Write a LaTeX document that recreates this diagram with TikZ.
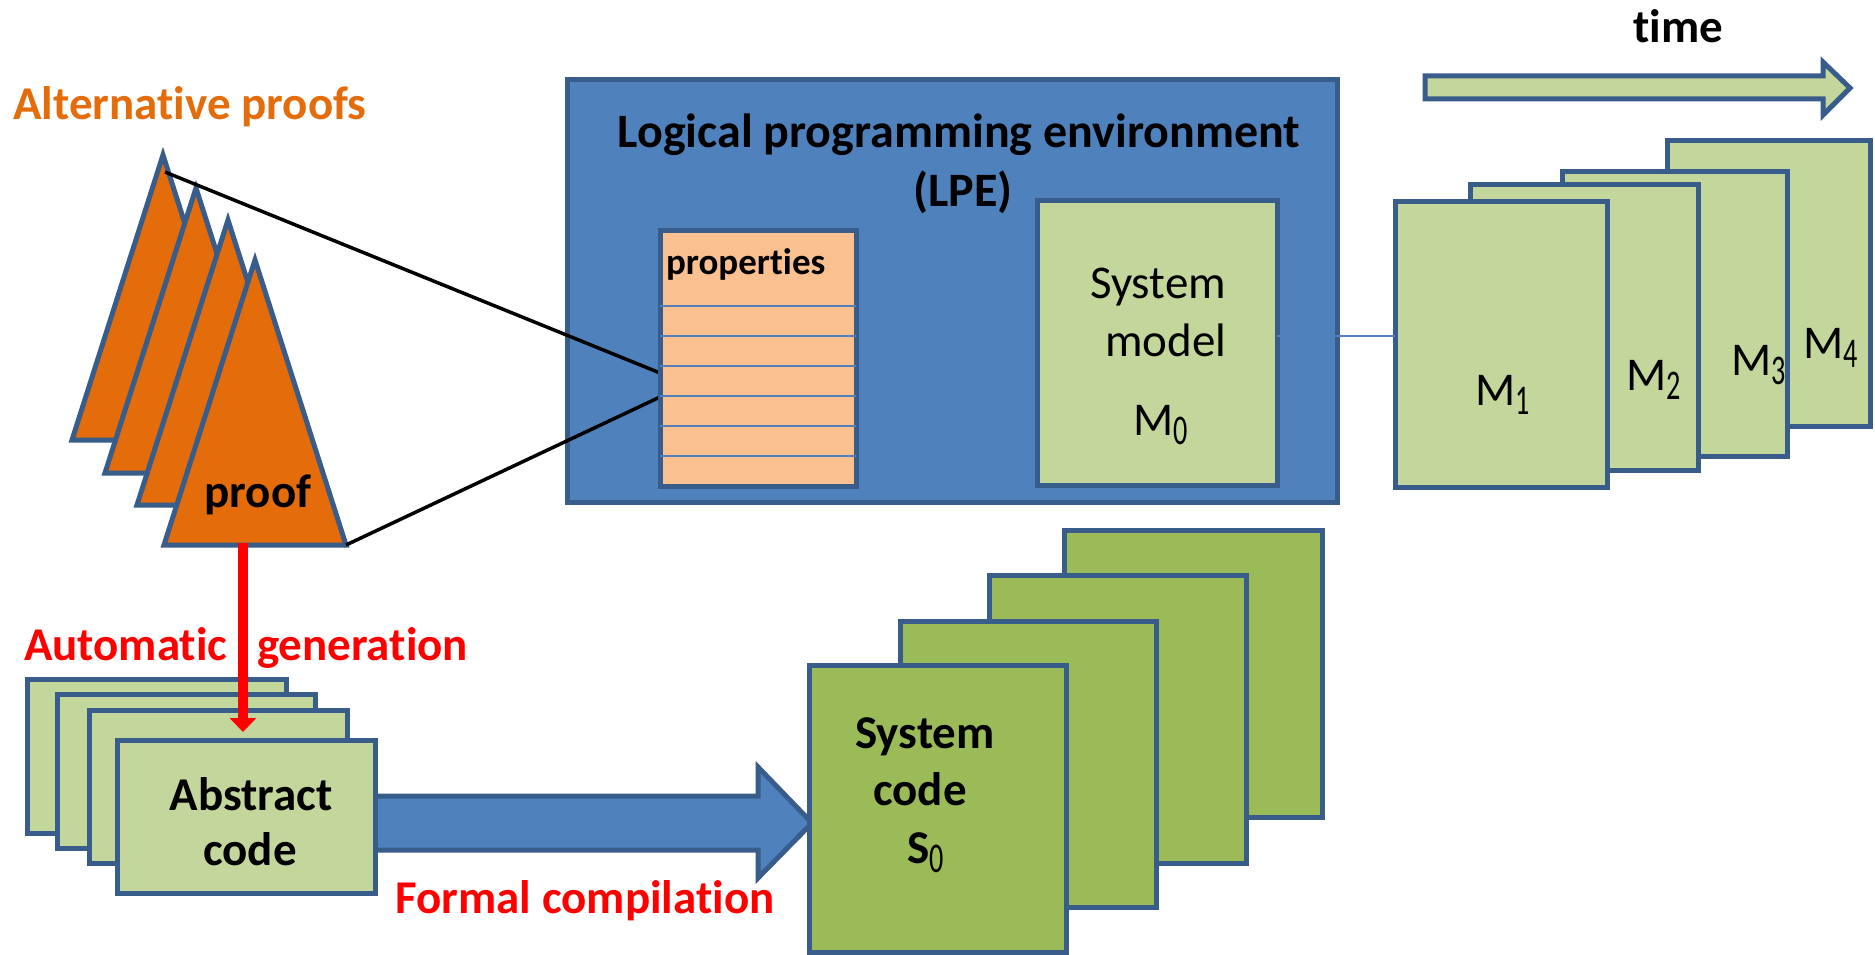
\documentclass[tikz,border=0pt]{standalone}
\usepackage{fontspec}
\setmainfont{Carlito}[Ligatures={NoCommon}]
\usetikzlibrary{arrows.meta,calc}
\definecolor{bdr}{HTML}{385D8A}
\definecolor{lpeblue}{HTML}{4F81BD}
\definecolor{lgreen}{HTML}{C3D69B}
\definecolor{dgreen}{HTML}{9BBB59}
\definecolor{orng}{HTML}{E46C0A}
\definecolor{peach}{HTML}{FAC090}
\definecolor{redc}{HTML}{FF0000}
\newcommand\subn[1]{\raisebox{-0.2em}{\scalebox{0.6}[0.9]{#1}}}
\newcommand\bigfs{\fontsize{47}{50}\selectfont}
\newcommand\tri[3]{%
  \coordinate (#1a) at (#2,#3);
  \coordinate (#1l) at ($(#1a)+(-91,285)$);
  \coordinate (#1r) at ($(#1a)+(91,285)$);
  \draw[tristyle] (#1a) -- (#1l) -- (#1r) -- cycle;}
\begin{document}
\begin{tikzpicture}[x=1pt,y=-1pt,
  rbox/.style={draw=bdr,line width=5pt,anchor=north west,inner sep=0pt,outer sep=0pt},
  tristyle/.style={draw=bdr,fill=orng,line width=5pt,line join=miter},
  txt/.style={anchor=base,inner sep=0pt,outer sep=0pt,font=\bigfs\bfseries},
  txtr/.style={anchor=base,inner sep=0pt,outer sep=0pt,font=\bigfs},
  rowline/.style={draw=lpeblue,line width=2.5pt},
  blackline/.style={draw=black,line width=3.5pt},
  thinblue/.style={draw=lpeblue,line width=2pt},
  fatarrow/.style={draw=bdr,fill=lpeblue,line width=5pt,line join=miter},
  timearrow/.style={draw=bdr,fill=lgreen,line width=5pt,line join=miter},
  redarrow/.style={draw=redc,line width=10pt,-{Triangle[width=26pt,length=14pt]}}]
\useasboundingbox (0,0) rectangle (1875,955);
\fill[white] (0,0) rectangle (1875,955);

% triangles
\tri{ta}{163}{155}
\tri{tb}{196}{188}
\tri{tc}{228}{220}
\tri{td}{255}{260}
\node[txt] (prooft) at (258,507) {proof};
\node[txt,text=orng] (altp) at (190,120) {Alternative proofs};

% LPE
\node[rbox,fill=lpeblue,minimum width=770pt,minimum height=422pt] (lpe) at (567,80) {};
\node[txt,font=\fontsize{48}{50}\selectfont\bfseries] (lpet) at (959,148) {Logical programming environment};
\node[txt,font=\fontsize{48}{50}\selectfont\bfseries] (lpe2) at (963,207) {(LPE)};

% connectors from proof to properties
\coordinate (tp) at (165,172);
\coordinate (pl1) at (660,373);
\coordinate (pl2) at (660,397);
\draw[blackline] (tp) -- (pl1);
\draw[blackline] (tdr) -- (pl2);

% properties
\node[rbox,fill=peach,minimum width=196pt,minimum height=256pt] (props) at (660,230) {};
\foreach \yy in {306,336,366,396,426,456}
  \draw[rowline] (props.west |- 0,\yy) -- (props.east |- 0,\yy);
\node[txt,anchor=base west,font=\fontsize{37}{40}\selectfont\bfseries] (propt) at (666,274) {properties};

% system model
\node[rbox,fill=lgreen,minimum width=240pt,minimum height=285pt] (m0) at (1037,200) {};
\node[txtr] (sm1) at (1158,298) {System};
\node[txtr] (sm2) at (1166,356) {model};
\node[txtr] (sm3) at (1161,435) {M\subn{0}};

% time arrow
\coordinate (ts) at (1425,88);
\coordinate (te) at (1850,88);
\draw[timearrow] ($(ts)+(0,-12)$) -- ($(te)+(-27,-12)$) -- ($(te)+(-27,-26)$) -- (te)
  -- ($(te)+(-27,27)$) -- ($(te)+(-27,11)$) -- ($(ts)+(0,11)$) -- cycle;
\node[txt] (time) at (1678,43) {time};

% M boxes
\node[rbox,fill=lgreen,minimum width=203pt,minimum height=285pt] (m4) at (1667,141) {};
\node[rbox,fill=lgreen,minimum width=225pt,minimum height=284pt] (m3) at (1562,172) {};
\node[rbox,fill=lgreen,minimum width=228pt,minimum height=285pt] (m2) at (1470,185) {};
\node[rbox,fill=lgreen,minimum width=212pt,minimum height=286pt] (m1) at (1395,201) {};
\node[txtr] (m4t) at (1831,358) {M\subn{4}};
\node[txtr] (m3t) at (1759,375) {M\subn{3}};
\node[txtr] (m2t) at (1654,390) {M\subn{2}};
\node[txtr] (m1t) at (1503,405) {M\subn{1}};

% link line
\coordinate (lk) at (1277,336);
\draw[thinblue] (lk) -- (lk -| m1.west);

% formal compilation arrow
\coordinate (fa) at (375,823);
\coordinate (fb) at (812,823);
\draw[fatarrow] ($(fa)+(0,-27)$) -- ($(fb)+(-54,-27)$) -- ($(fb)+(-54,-56)$) -- (fb)
  -- ($(fb)+(-54,55)$) -- ($(fb)+(-54,27)$) -- ($(fa)+(0,27)$) -- cycle;

% system code boxes
\node[rbox,fill=dgreen,minimum width=258pt,minimum height=287pt] (s4) at (1064,530) {};
\node[rbox,fill=dgreen,minimum width=257pt,minimum height=288pt] (s3) at (989,575) {};
\node[rbox,fill=dgreen,minimum width=256pt,minimum height=286pt] (s2) at (900,621) {};
\node[rbox,fill=dgreen,minimum width=257pt,minimum height=287pt] (s1) at (809,665) {};
\node[txt] (sc1) at (925,748) {System};
\node[txt] (sc2) at (920,805) {code};
\node[txt] (sc3) at (926,863) {S\subn{\mdseries 0}};

% abstract code boxes
\node[rbox,fill=lgreen,minimum width=259pt,minimum height=154pt] (a1) at (27,679) {};
\node[rbox,fill=lgreen,minimum width=258pt,minimum height=154pt] (a2) at (57,694) {};
\node[rbox,fill=lgreen,minimum width=258pt,minimum height=153pt] (a3) at (89,710) {};
\node[rbox,fill=lgreen,minimum width=258pt,minimum height=153pt] (a4) at (117,740) {};
\node[txt] (ac1) at (251,810) {Abstract};
\node[txt] (ac2) at (250,865) {code};

% labels
\node[txt,anchor=base west,text=redc] (ag1) at (24,660) {Automatic};
\node[txt,anchor=base west,text=redc] (ag2) at (257,660) {generation};
\node[txt,text=redc] (fc) at (585,913) {Formal compilation};

% automatic generation arrow
\coordinate (ra) at (243,543);
\coordinate (rb) at (243,732);
\draw[redarrow] (ra) -- (rb);
\end{tikzpicture}
\end{document}
